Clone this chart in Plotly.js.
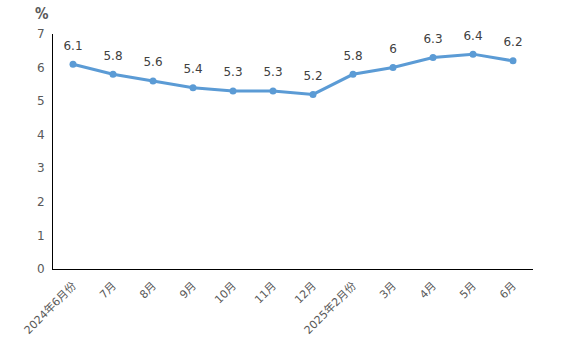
<!DOCTYPE html>
<html><head><meta charset="utf-8">
<script src="https://cdn.plot.ly/plotly-3.0.1.min.js"></script>
<style>body{margin:0;padding:0;background:#fff}#chart{width:564px;height:357px}</style>
</head><body><div id="chart"></div>
<script>
const categories = ["2024年6月份","7月","8月","9月","10月","11月","12月","2025年2月份","3月","4月","5月","6月"];
const values = [6.1,5.8,5.6,5.4,5.3,5.3,5.2,5.8,6,6.3,6.4,6.2];
const yTicks = [0,1,2,3,4,5,6,7];
const unitLabel = "%";

const lineTrace = {
  x: categories, y: values, type: "scatter", mode: "lines+markers",
  line: {color: "#5B9BD5", width: 3},
  marker: {color: "#5B9BD5", size: 7},
  cliponaxis: false, hoverinfo: "none"
};
const labelTrace = {
  x: categories, y: values, type: "scatter", mode: "markers+text",
  text: values.map(String), textposition: "top center",
  textfont: {family: "DejaVu Sans, sans-serif", size: 12, color: "#404040"},
  marker: {size: 17, opacity: 0, color: "#fff"},
  cliponaxis: false, hoverinfo: "none"
};
const layout = {
  width: 564, height: 357,
  margin: {l: 53, r: 31, t: 34, b: 88},
  paper_bgcolor: "#fff", plot_bgcolor: "#fff",
  showlegend: false,
  font: {family: "DejaVu Sans, Noto Sans CJK SC, sans-serif", color: "#595959", size: 11},
  xaxis: {type: "category", tickangle: -45, showline: true, linecolor: "#000", linewidth: 1,
    showgrid: false, zeroline: false, ticks: "", range: [-0.5, 11.5], ticklabelstandoff: 5,
    tickfont: {family: "DejaVu Sans, Noto Sans CJK SC, sans-serif", size: 11, color: "#595959"}},
  yaxis: {range: [0, 7], tickvals: yTicks, showline: true, linecolor: "#000", linewidth: 1,
    showgrid: false, zeroline: false, ticks: "", ticklabelstandoff: 5,
    tickfont: {family: "DejaVu Sans, sans-serif", size: 12, color: "#595959"}},
  annotations: [{text: "<b>" + unitLabel + "</b>", xref: "paper", yref: "paper", x: -0.023, y: 1.085,
    xanchor: "center", yanchor: "middle", showarrow: false,
    font: {family: "DejaVu Sans Condensed, DejaVu Sans, sans-serif", size: 15, color: "#595959"}}]
};
Plotly.newPlot("chart", [lineTrace, labelTrace], layout, {staticPlot: true});
</script></body></html>
